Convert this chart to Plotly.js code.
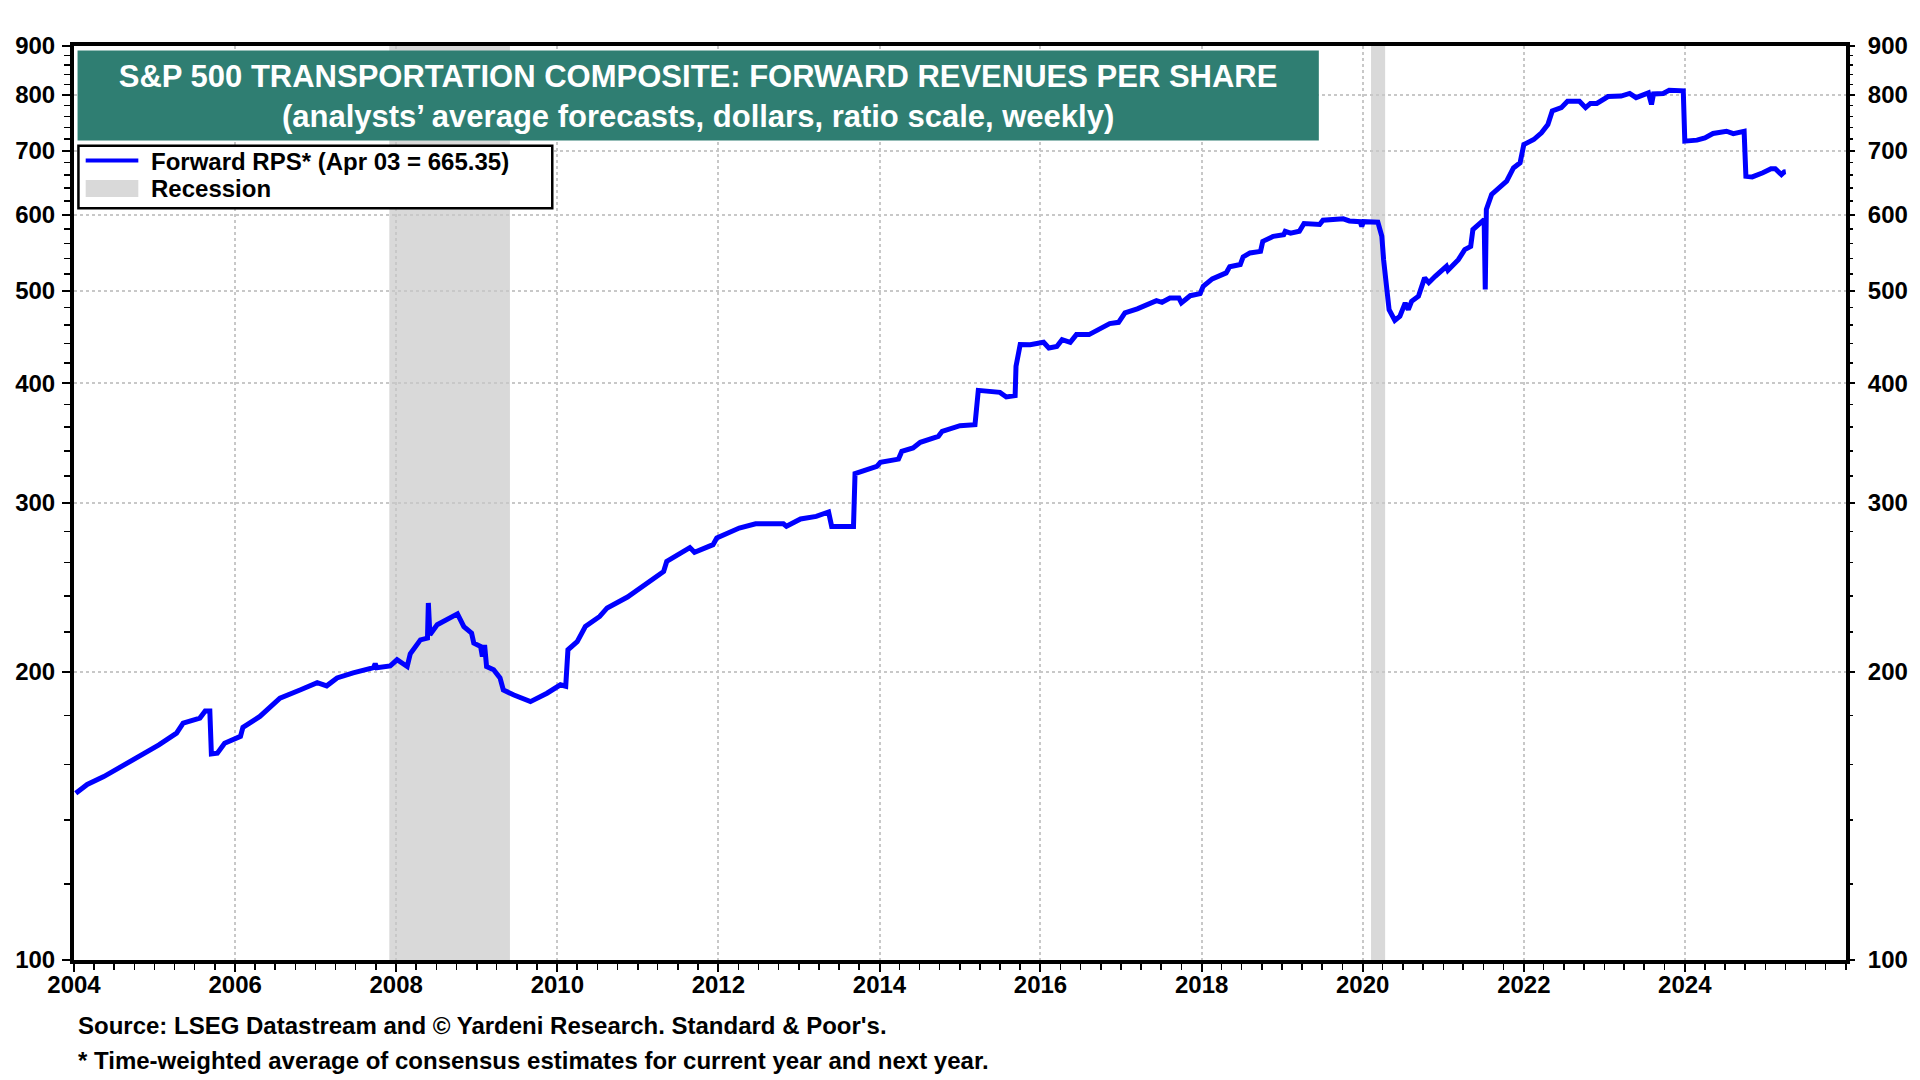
<!DOCTYPE html>
<html>
<head>
<meta charset="utf-8">
<script src="https://cdn.plot.ly/plotly-3.0.1.min.js"></script>
<style>
html,body{margin:0;padding:0;background:#ffffff;}
#chart{width:1920px;height:1080px;}
</style>
</head>
<body>
<div id="chart"></div>
<script>
// ---- Data ----
const dates = [
'2004-01-09','2004-03-01','2004-05-15','2004-09-05','2004-11-15','2005-01-20','2005-04-10','2005-05-10','2005-07-25','2005-08-18',
'2005-09-08','2005-09-15','2005-10-12','2005-11-14','2006-01-25','2006-02-05','2006-04-23','2006-07-23','2006-10-22','2007-01-08',
'2007-02-20','2007-04-08','2007-06-20','2007-09-20','2007-09-28','2007-10-05','2007-12-05','2008-01-05','2008-02-20','2008-03-05',
'2008-04-20','2008-05-22','2008-05-26','2008-06-02','2008-07-05','2008-08-18','2008-10-05','2008-11-03','2008-12-08','2008-12-18',
'2009-01-18','2009-01-26','2009-02-05','2009-02-14','2009-03-18','2009-04-16','2009-05-01','2009-06-18','2009-09-01','2009-11-15',
'2010-01-15','2010-02-08','2010-02-18','2010-04-01','2010-05-08','2010-07-12','2010-08-15','2010-11-15','2011-02-10','2011-04-28',
'2011-05-12','2011-07-28','2011-08-25','2011-09-15','2011-12-08','2011-12-25','2012-04-05','2012-06-18','2012-10-22','2012-11-05',
'2013-01-08','2013-03-20','2013-05-15','2013-05-29','2013-09-05','2013-09-12','2013-12-20','2014-01-05','2014-03-28','2014-04-12',
'2014-06-02','2014-07-05','2014-09-25','2014-10-12','2015-01-01','2015-03-10','2015-03-25','2015-07-01','2015-07-30','2015-09-08',
'2015-09-12','2015-10-01','2015-11-15','2016-01-15','2016-02-08','2016-03-15','2016-04-08','2016-05-15','2016-06-12','2016-08-08',
'2016-09-28','2016-11-10','2016-12-20','2017-01-18','2017-03-15','2017-05-12','2017-06-10','2017-07-05','2017-08-10','2017-09-20',
'2017-10-01','2017-11-10','2017-12-25','2018-01-08','2018-02-18','2018-04-22','2018-05-08','2018-06-25','2018-07-08','2018-08-08',
'2018-09-25','2018-10-05','2018-11-22','2019-01-08','2019-01-15','2019-02-08','2019-03-20','2019-04-10','2019-06-20','2019-07-05',
'2019-10-05','2019-11-02','2019-12-20','2019-12-28','2020-01-05','2020-03-10','2020-03-28','2020-04-05','2020-04-16','2020-04-30',
'2020-05-26','2020-06-18','2020-07-12','2020-07-26','2020-08-10','2020-09-10','2020-10-08','2020-10-27','2020-11-25','2021-01-15',
'2021-01-22','2021-03-10','2021-04-08','2021-05-05','2021-05-15','2021-06-18','2021-07-05','2021-07-10','2021-07-15','2021-08-08',
'2021-09-12','2021-10-15','2021-11-15','2021-12-15','2022-01-01','2022-02-15','2022-03-22','2022-04-20','2022-05-10','2022-06-20',
'2022-07-18','2022-09-10','2022-10-08','2022-10-30','2022-11-28','2023-01-18','2023-03-18','2023-04-26','2023-05-25','2023-07-20',
'2023-08-03','2023-08-12','2023-09-25','2023-10-22','2023-12-25','2024-01-01','2024-02-25','2024-04-01','2024-05-08','2024-07-08',
'2024-08-08','2024-09-26','2024-10-04','2024-11-02','2024-12-20','2025-01-26','2025-02-14','2025-03-14','2025-03-27','2025-04-03'
];
const forwardRPS = [
149.3,152.5,155.4,160.7,164.4,167.7,172.5,176.7,178.9,182.0,
182.0,164.1,164.4,168.4,171.2,174.9,179.6,187.7,191.4,194.8,
193.3,197.0,199.4,201.9,203.9,201.9,202.8,205.8,202.5,208.8,
215.9,216.8,235.9,218.6,223.9,226.9,229.8,222.9,219.4,214.2,
212.5,207.4,213.3,202.5,200.9,197.0,191.4,189.1,186.1,189.9,
193.8,193.1,210.8,215.0,222.9,228.4,233.1,239.3,247.4,254.5,
260.7,267.1,269.5,266.5,271.4,275.8,282.5,285.4,285.4,283.7,
288.7,290.5,293.6,283.6,283.6,321.9,327.6,330.8,333.4,339.6,
342.4,347.1,352.2,356.4,361.3,362.2,393.3,391.4,387.1,388.3,
416.8,439.1,439.0,441.5,435.5,437.0,444.3,441.5,449.7,449.7,
456.9,461.8,463.2,473.8,478.4,485.3,487.9,486.0,491.0,491.0,
485.3,493.8,496.2,505.0,514.2,521.6,529.3,532.2,542.0,547.3,
549.3,562.7,569.6,571.8,576.5,574.0,576.5,587.4,586.0,592.0,
594.0,591.0,590.0,583.5,590.0,589.3,569.6,538.5,505.1,477.5,
465.4,470.0,485.3,477.5,487.2,493.1,515.4,509.5,517.4,530.0,
525.0,538.5,551.6,556.0,578.9,588.4,592.9,501.2,607.5,629.8,
640.0,650.2,671.4,679.6,710.2,718.8,730.5,745.3,770.0,776.0,
788.2,788.0,776.0,784.0,784.0,797.0,798.0,803.0,795.0,804.0,
782.0,802.0,803.0,809.0,808.0,716.0,717.7,721.7,729.3,733.3,
729.0,733.0,658.0,657.0,663.5,669.9,670.0,660.7,665.0,665.35
];
const recessionStart = ['2007-12-01','2020-02-08'];
const recessionEnd   = ['2009-05-31','2020-04-12'];

const xTickVals = ['2004-01-01','2006-01-01','2008-01-01','2010-01-01','2012-01-01','2014-01-01','2016-01-01','2018-01-01','2020-01-01','2022-01-01','2024-01-01'];
const xTickText = ['2004','2006','2008','2010','2012','2014','2016','2018','2020','2022','2024'];
const yTickVals = [100,200,300,400,500,600,700,800,900];
const yTickText = ['100','200','300','400','500','600','700','800','900'];
const yMinorVals = [120,140,160,180,220,240,260,280,320,340,360,380,420,440,460,480,520,540,560,580,620,640,660,680,720,740,760,780,820,840,860,880];

const seriesName = 'Forward RPS* (Apr 03 = 665.35)';
const recessionName = 'Recession';
const titleText = 'S&P 500 TRANSPORTATION COMPOSITE: FORWARD REVENUES PER SHARE<br>(analysts’ average forecasts, dollars, ratio scale, weekly)';
const sourceText = 'Source: LSEG Datastream and © Yardeni Research. Standard & Poor\'s.';
const noteText = '* Time-weighted average of consensus estimates for current year and next year.';

// ---- Styles ----
const FONT = 'Liberation Sans, Arial, Helvetica, sans-serif';
const BLUE = '#0000FF';
const GREY = '#D9D9D9';
const GRID = '#C8C8C8';
const TEAL = '#2F7E72';
const yRange = [Math.log10(100), Math.log10(900)];

const traces = [
  {
    type: 'scatter', mode: 'lines', name: seriesName,
    x: dates, y: forwardRPS,
    line: {color: BLUE, width: 5},
    xaxis: 'x', yaxis: 'y', hoverinfo: 'x+y', showlegend: false
  },
  {
    type: 'scatter', mode: 'lines', name: recessionName,
    x: [null], y: [null],
    line: {color: GREY, width: 0},
    xaxis: 'x', yaxis: 'y2', hoverinfo: 'skip', showlegend: false
  }
];

const shapes = recessionStart.map((s, i) => ({
  type: 'rect', xref: 'x', yref: 'paper', x0: s, x1: recessionEnd[i], y0: 0, y1: 1,
  fillcolor: GREY, line: {width: 0}, layer: 'below'
}));
// title banner
shapes.push({
  type: 'rect', xref: 'paper', yref: 'paper', x0: 0.002, x1: 0.7025, y0: 0.8966, y1: 0.9951,
  fillcolor: TEAL, line: {width: 0}, layer: 'above'
});
// legend box and keys
shapes.push({
  type: 'rect', xref: 'paper', yref: 'paper', x0: 0.0025, x1: 0.2699, y0: 0.8225, y1: 0.8909,
  fillcolor: '#ffffff', line: {color: '#000', width: 2.5}, layer: 'above'
});
shapes.push({
  type: 'line', xref: 'paper', yref: 'paper', x0: 0.0066, x1: 0.0363, y0: 0.8748, y1: 0.8748,
  line: {color: BLUE, width: 4}, layer: 'above'
});
shapes.push({
  type: 'rect', xref: 'paper', yref: 'paper', x0: 0.0066, x1: 0.0363, y0: 0.8348, y1: 0.8534,
  fillcolor: GREY, line: {width: 0}, layer: 'above'
});

const tickFont = {family: FONT, size: 24, color: '#000', weight: 'bold'};
const textFont = {family: FONT, size: 24, color: '#000', weight: 'bold'};
const minorY = {tickvals: yMinorVals, ticks: 'outside', ticklen: 6, tickwidth: 1.5, tickcolor: '#000', showgrid: false};

const layout = {
  width: 1920, height: 1080,
  paper_bgcolor: '#ffffff', plot_bgcolor: '#ffffff',
  margin: {l: 74, r: 74, t: 46, b: 120, pad: 0},
  font: {family: FONT, color: '#000'},
  title: {
    text: titleText,
    font: {family: FONT, size: 31, color: '#ffffff', weight: 'bold'},
    xref: 'paper', x: 0.3522, xanchor: 'center',
    yref: 'paper', y: 0.9553, yanchor: 'middle'
  },
  showlegend: false,
  xaxis: {
    type: 'date', range: ['2004-01-01', '2026-01-01'],
    tickmode: 'array', tickvals: xTickVals, ticktext: xTickText,
    ticks: 'outside', ticklen: 8, tickwidth: 2, tickcolor: '#000',
    tickfont: tickFont, ticklabelstandoff: -8,
    showgrid: true, gridcolor: GRID, griddash: 'dot', gridwidth: 2,
    showline: true, linecolor: '#000', linewidth: 4, mirror: true,
    zeroline: false, fixedrange: true,
    minor: {dtick: 'M3', tick0: '2004-01-01', ticks: 'outside', ticklen: 6, tickwidth: 1.5, tickcolor: '#000', showgrid: false}
  },
  yaxis: {
    type: 'log', range: yRange,
    tickmode: 'array', tickvals: yTickVals, ticktext: yTickText,
    ticks: 'outside', ticklen: 8, tickwidth: 2, tickcolor: '#000',
    tickfont: tickFont, ticklabelstandoff: 2,
    showgrid: true, gridcolor: GRID, griddash: 'dot', gridwidth: 2,
    showline: true, linecolor: '#000', linewidth: 4, mirror: true,
    zeroline: false, fixedrange: true,
    minor: minorY
  },
  yaxis2: {
    type: 'log', range: yRange, overlaying: 'y', side: 'right',
    tickmode: 'array', tickvals: yTickVals, ticktext: yTickText,
    ticks: 'outside', ticklen: 8, tickwidth: 2, tickcolor: '#000',
    tickfont: tickFont, ticklabelstandoff: 8,
    showgrid: false, showline: false, zeroline: false, fixedrange: true,
    minor: minorY
  },
  shapes: shapes,
  annotations: [
    {text: seriesName, xref: 'paper', yref: 'paper', x: 0.0426, y: 0.8735, xanchor: 'left', yanchor: 'middle',
     showarrow: false, font: textFont},
    {text: recessionName, xref: 'paper', yref: 'paper', x: 0.0426, y: 0.8440, xanchor: 'left', yanchor: 'middle',
     showarrow: false, font: textFont},
    {text: sourceText, xref: 'paper', yref: 'paper', x: 0.0014, y: -0.0722, xanchor: 'left', yanchor: 'middle',
     showarrow: false, font: textFont},
    {text: noteText, xref: 'paper', yref: 'paper', x: 0.0014, y: -0.1095, xanchor: 'left', yanchor: 'middle',
     showarrow: false, font: textFont}
  ]
};

Plotly.newPlot('chart', traces, layout, {displayModeBar: false, staticPlot: true});
</script>
</body>
</html>
